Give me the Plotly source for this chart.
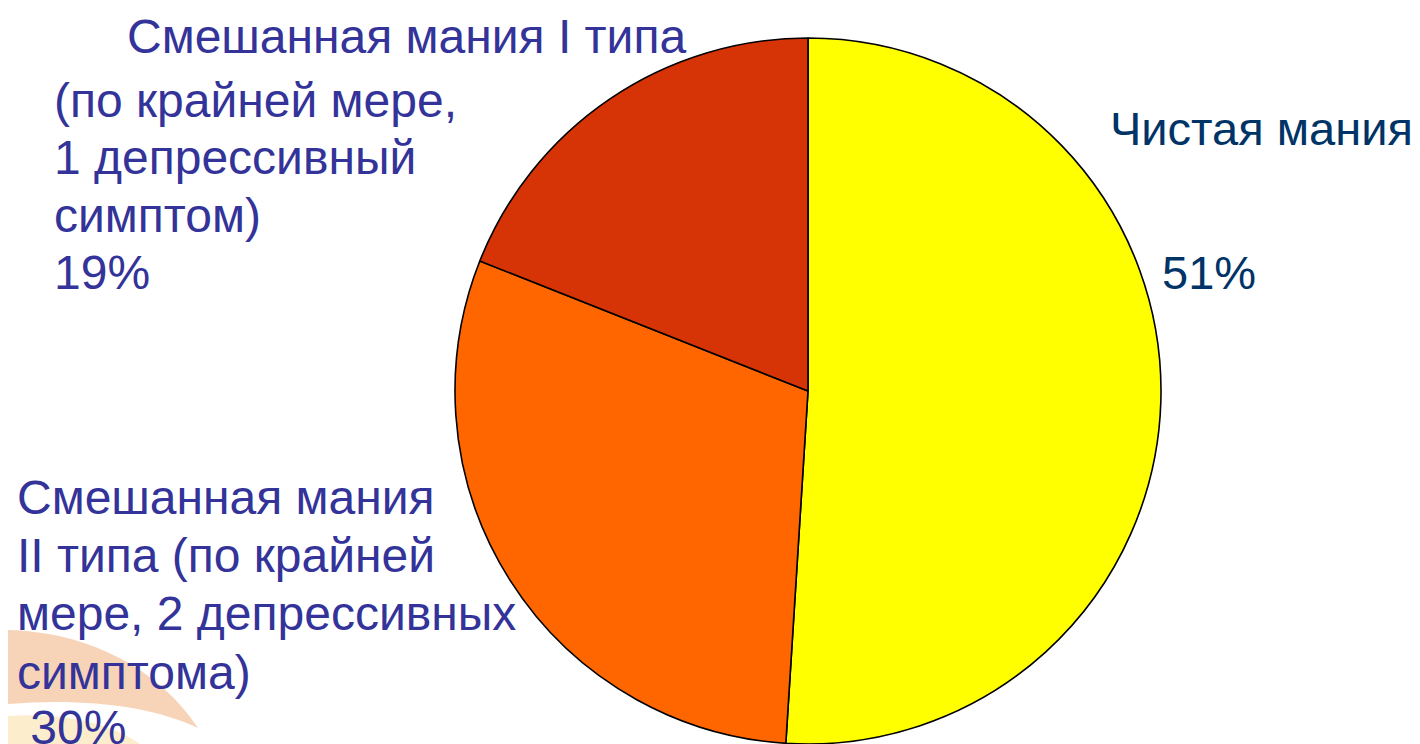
import plotly.graph_objects as go

# The page body adds an 8 px offset; the figure is sized to fill the rest.
OFF = 8
W, H = 1420 - OFF, 744 - OFF

labels = ["Чистая мания",
          "Смешанная мания II типа (по крайней мере, 2 депрессивных симптома)",
          "Смешанная мания I типа (по крайней мере, 1 депрессивный симптом)"]
values = [51, 30, 19]
colors = ["#FFFF00", "#FF6600", "#D63306"]

label_pure = ["Чистая мания", "51%"]
label_mixed1 = ["Смешанная мания I типа", "(по крайней мере,", "1 депрессивный", "симптом)", "19%"]
label_mixed2 = ["Смешанная мания", "II типа (по крайней", "мере, 2 депрессивных", "симптома)", " 30%"]


def px(x):
    return (x - OFF) / W


def py(y):
    return 1 - (y - OFF) / H


fig = go.Figure()
fig.add_trace(go.Pie(
    labels=labels, values=values, sort=False, direction="clockwise", rotation=0,
    marker=dict(colors=colors, line=dict(color="#000000", width=1.6)),
    textinfo="none", hoverinfo="label+percent", showlegend=False,
    domain=dict(x=[px(808 - 353), px(808 + 353)], y=[0, py(38)]),
))

ann = []
regular = "Liberation Sans, Arial, sans-serif"

# Top-left label
top_rows = [(125, 37), (52, 100), (52, 158), (52, 215), (52, 272)]
for (x, y), t in zip(top_rows, label_mixed1):
    ann.append(dict(text=t, x=px(x), y=py(y), xref="paper", yref="paper",
                    xanchor="left", yanchor="middle", showarrow=False,
                    font=dict(family=regular, size=48, color="#333399")))

# Bottom-left label
bot_rows = [(15, 497), (15, 555), (15, 613), (15, 672), (15, 727)]
for (x, y), t in zip(bot_rows, label_mixed2):
    ann.append(dict(text=t, x=px(x), y=py(y), xref="paper", yref="paper",
                    xanchor="left", yanchor="middle", showarrow=False,
                    font=dict(family=regular, size=48, color="#333399")))

# Right label
ann.append(dict(text=label_pure[0], x=px(1108), y=py(128), xref="paper", yref="paper",
                xanchor="left", yanchor="middle", showarrow=False,
                font=dict(family=regular, size=47, color="#003366")))
ann.append(dict(text=label_pure[1], x=px(1160), y=py(272), xref="paper", yref="paper",
                xanchor="left", yanchor="middle", showarrow=False,
                font=dict(family=regular, size=47, color="#003366")))


def path(points):
    s = "M {} {}".format(px(points[0][0]), py(points[0][1]))
    i = 1
    while i < len(points):
        (a, b), (c, d), (e, f) = points[i], points[i + 1], points[i + 2]
        s += " C {} {}, {} {}, {} {}".format(px(a), py(b), px(c), py(d), px(e), py(f))
        i += 3
    return s + " Z"


shapes = [
    dict(type="path", xref="paper", yref="paper", layer="below",
         path=path([(OFF, 630), (90, 632), (160, 670), (198, 728),
                    (150, 705), (80, 698), (OFF, 704)]),
         fillcolor="#F6CBAA", opacity=0.85, line=dict(width=0)),
    dict(type="path", xref="paper", yref="paper", layer="below",
         path=path([(OFF, 716), (60, 712), (110, 722), (140, 744),
                    (100, 744), (40, 744), (OFF, 744)]),
         fillcolor="#FCEBC4", opacity=0.85, line=dict(width=0)),
]

fig.update_layout(
    width=W, height=H, margin=dict(l=0, r=0, t=0, b=0),
    paper_bgcolor="#FFFFFF", plot_bgcolor="#FFFFFF",
    annotations=ann, shapes=shapes,
)

fig.write_html("out.html")
